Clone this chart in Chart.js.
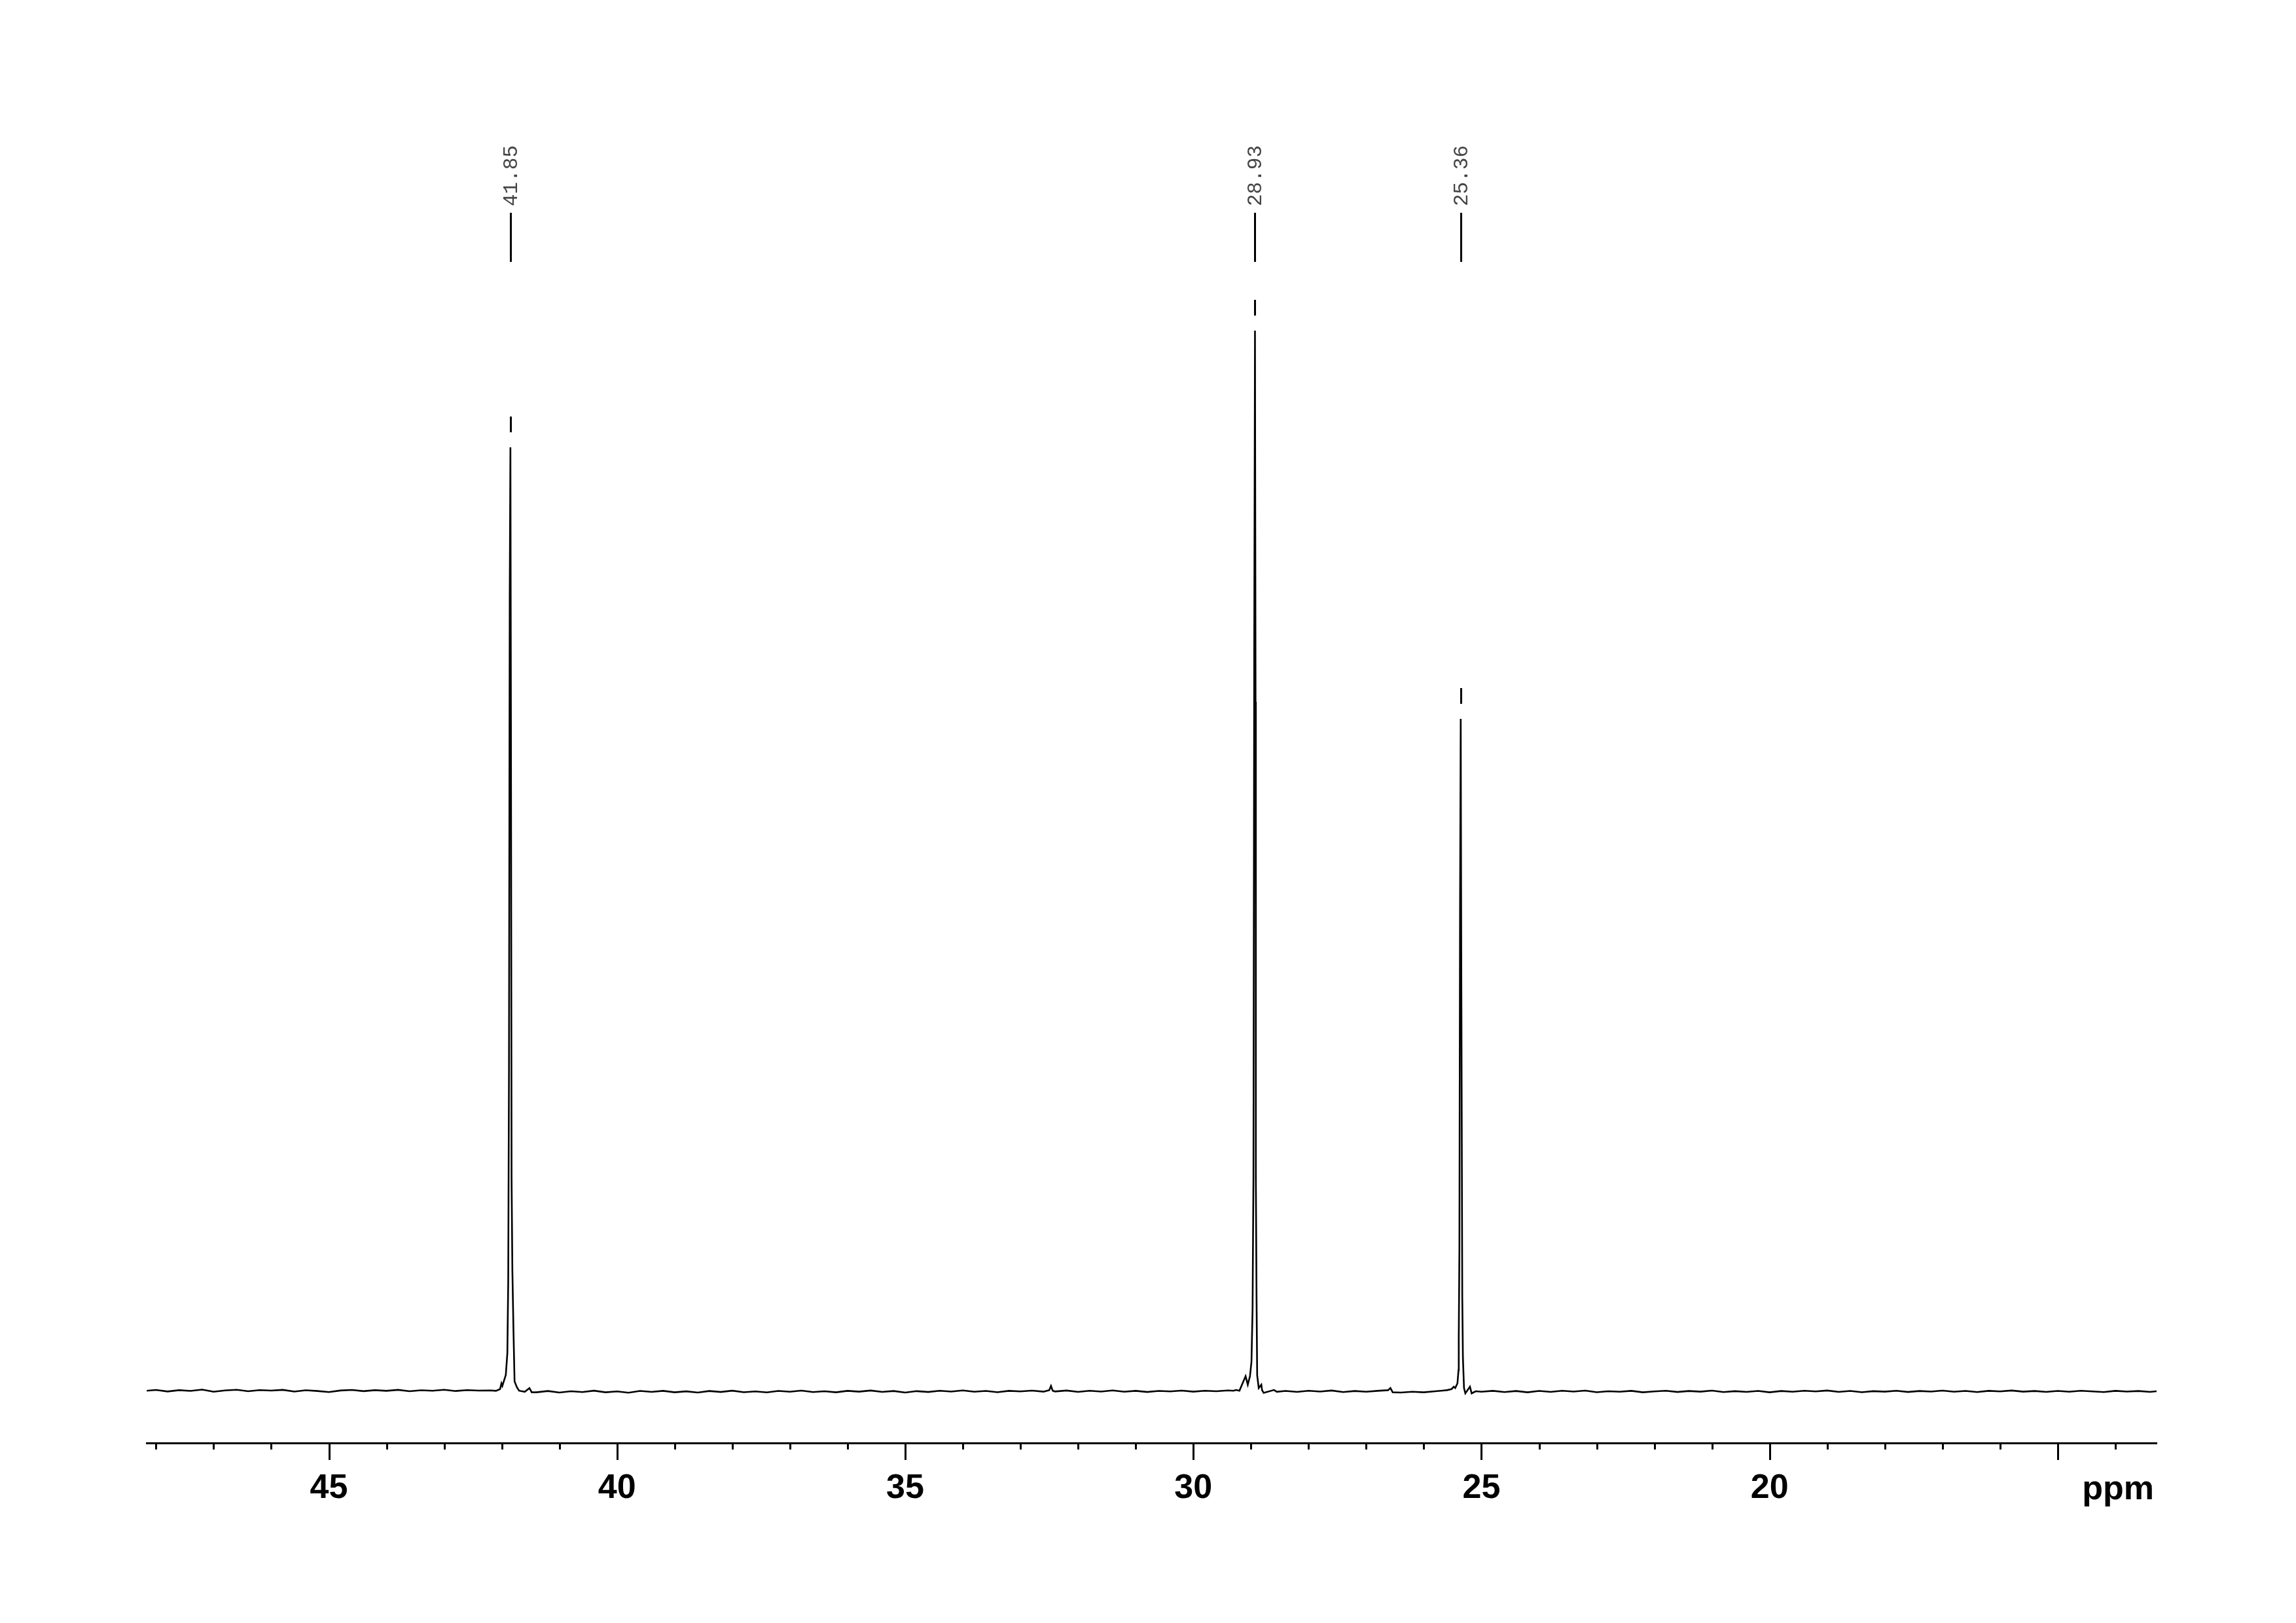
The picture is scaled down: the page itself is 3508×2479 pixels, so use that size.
<!DOCTYPE html>
<html>
<head>
<meta charset="utf-8">
<title>13C NMR</title>
<script src="https://cdn.jsdelivr.net/npm/chart.js@4.4.0/dist/chart.umd.min.js"></script>
<style>
  html, body { margin: 0; padding: 0; background: #fff; }
  #wrap { width: 3508px; height: 2479px; }
</style>
</head>
<body>
<div id="wrap"><canvas id="nmr" width="3508" height="2479"></canvas></div>
<script>
const peakShifts = [41.85, 28.93, 25.36];
const peakLabels = ['41.85', '28.93', '25.36'];
const peakHeights = [89.0, 100, 63.4];

const majorTicks = [45, 40, 35, 30, 25, 20, 15];
const tickLabels = ['45', '40', '35', '30', '25', '20', ''];
const axisUnit = 'ppm';

const spectrumPpm = [
    48.16, 48.0, 47.8, 47.6, 47.4, 47.2, 47.0, 46.8, 46.6, 46.4, 46.2, 46.0, 45.8, 45.6, 45.4, 45.2,
    45.0, 44.8, 44.6, 44.4, 44.2, 44.0, 43.8, 43.6, 43.4, 43.2, 43.0, 42.8, 42.6, 42.4, 42.2,
    // pico 41.85
    42.10, 42.03, 42.006, 41.99, 41.93, 41.903, 41.888, 41.875, 41.862, 41.85, 41.84, 41.83, 41.816,
    41.797, 41.778, 41.74, 41.70, 41.6, 41.52, 41.48,
    41.4, 41.2, 41.0, 40.8, 40.6, 40.4, 40.2, 40.0, 39.8, 39.6, 39.4, 39.2, 39.0, 38.8, 38.6, 38.4,
    38.2, 38.0, 37.8, 37.6, 37.4, 37.2, 37.0, 36.8, 36.6, 36.4, 36.2, 36.0, 35.8, 35.6, 35.4, 35.2,
    35.0, 34.8, 34.6, 34.4, 34.2, 34.0, 33.8, 33.6, 33.4, 33.2, 33.0, 32.8, 32.6, 32.5, 32.47, 32.44,
    32.4, 32.2, 32.0, 31.8, 31.6, 31.4, 31.2, 31.0, 30.8, 30.6, 30.4, 30.2, 30.0, 29.8, 29.6, 29.4, 29.3,
    // pico 28.93
    29.26, 29.2, 29.093, 29.055, 29.017, 28.991, 28.972, 28.957, 28.943, 28.93, 28.92, 28.915, 28.903,
    28.892, 28.865, 28.82, 28.807, 28.78, 28.6, 28.55,
    28.4, 28.2, 28.0, 27.8, 27.6, 27.4, 27.2, 27.0, 26.8, 26.62, 26.58, 26.54, 26.4, 26.2, 26.0, 25.8, 25.7,
    // pico 25.36
    25.6, 25.52, 25.48, 25.455, 25.417, 25.398, 25.394, 25.383, 25.372, 25.36, 25.35, 25.333, 25.322,
    25.303, 25.28, 25.2, 25.17, 25.1,
    25.0, 24.8, 24.6, 24.4, 24.2, 24.0, 23.8, 23.6, 23.4, 23.2, 23.0, 22.8, 22.6, 22.4, 22.2, 22.0,
    21.8, 21.6, 21.4, 21.2, 21.0, 20.8, 20.6, 20.4, 20.2, 20.0, 19.8, 19.6, 19.4, 19.2, 19.0, 18.8,
    18.6, 18.4, 18.2, 18.0, 17.8, 17.6, 17.4, 17.2, 17.0, 16.8, 16.6, 16.4, 16.2, 16.0, 15.8, 15.6,
    15.4, 15.2, 15.0, 14.8, 14.6, 14.4, 14.2, 14.0, 13.8, 13.6, 13.4, 13.285
];

const spectrumIntensity = [
    0.05, 0.12, -0.02, 0.10, 0.03, 0.15, -0.05, 0.08, 0.14, 0.0, 0.11, 0.06, 0.13, -0.03, 0.09, 0.02,
    -0.08, 0.07, 0.12, 0.01, 0.10, 0.04, 0.13, 0.0, 0.09, 0.05, 0.14, 0.02, 0.11, 0.06, 0.08,
    // pico 41.85
    0.04, 0.2, 0.74, 0.5, 1.54, 3.6, 10.4, 30, 75, 89.0, 60, 20, 11.4,
    5.7, 0.93, 0.4, 0.05, -0.05, 0.3, -0.1,
    -0.1, 0.02, -0.12, 0.0, -0.08, 0.05, -0.1, -0.02, -0.14, 0.03, -0.06, 0.04, -0.1, -0.01, -0.12, 0.02,
    -0.07, 0.05, -0.09, -0.02, -0.11, 0.03, -0.05, 0.06, -0.08, 0.0, -0.1, 0.04, -0.04, 0.07, -0.06, 0.02,
    -0.12, 0.01, -0.07, 0.05, -0.03, 0.08, -0.05, 0.03, -0.09, 0.04, -0.02, 0.06, -0.04, 0.1, 0.5, 0.05,
    -0.02, 0.07, -0.06, 0.05, -0.03, 0.08, -0.05, 0.04, -0.07, 0.03, -0.02, 0.06, -0.04, 0.05, 0.0, 0.08, 0.05,
    // pico 28.93
    0.12, 0.05, 1.42, 0.62, 1.42, 2.78, 7.7, 20, 70, 100, 65, 20, 8.8,
    1.5, 0.3, 0.62, 0.1, -0.15, 0.12, -0.05,
    0.03, -0.06, 0.05, -0.03, 0.07, -0.08, 0.02, -0.05, 0.04, 0.1, 0.3, -0.1, -0.12, -0.05, -0.1, 0.0, 0.05,
    // pico 25.36
    0.1, 0.2, 0.43, 0.3, 0.74, 2.0, 5.1, 13.3, 45, 63.4, 40, 8.8, 3.2,
    0.3, -0.2, 0.43, -0.2, 0.0,
    -0.05, 0.04, -0.08, 0.02, -0.1, 0.03, -0.06, 0.05, -0.03, 0.06, -0.09, 0.0, -0.05, 0.04, -0.1, -0.02,
    0.05, -0.07, 0.02, -0.04, 0.06, -0.08, 0.01, -0.06, 0.03, -0.1, 0.02, -0.05, 0.05, -0.02, 0.07, -0.06,
    0.03, -0.09, 0.01, -0.04, 0.05, -0.07, 0.02, -0.03, 0.06, -0.05, 0.03, -0.08, 0.04, -0.02, 0.07, -0.04,
    0.02, -0.06, 0.03, -0.05, 0.05, -0.02, -0.08, 0.04, -0.03, 0.02, -0.06, 0.0
];

const labelFont = '"Liberation Sans Narrow", "Arial Narrow", "Liberation Sans", Arial, sans-serif';

// --- plugin: marcas del eje y etiquetas de picos ---
const nmrDecor = {
    id: 'nmrDecor',
    afterDraw(chart) {
        const ctx = chart.ctx;
        const xs = chart.scales.x;
        const ys = chart.scales.y;
        const axisY = chart.chartArea.bottom;

        ctx.save();
        ctx.strokeStyle = '#000';
        ctx.lineWidth = 3;
        xs.ticks.forEach(t => {
            const px = Math.round(xs.getPixelForValue(t.value)) + 0.5;
            const len = majorTicks.includes(t.value) ? 26 : 10;
            ctx.beginPath();
            ctx.moveTo(px, axisY);
            ctx.lineTo(px, axisY + len);
            ctx.stroke();
        });

        // unidad a la derecha
        ctx.fillStyle = '#000';
        ctx.font = 'bold 52px ' + labelFont;
        ctx.textAlign = 'right';
        ctx.textBaseline = 'alphabetic';
        ctx.fillText(axisUnit, chart.chartArea.right - 4, 2290);

        // etiquetas de picos
        peakShifts.forEach((shift, i) => {
            const px = Math.round(xs.getPixelForValue(shift)) + 0.5;
            const top = ys.getPixelForValue(peakHeights[i]);
            ctx.strokeStyle = '#000';
            ctx.lineWidth = 3;
            ctx.beginPath();
            ctx.moveTo(px, 325);
            ctx.lineTo(px, 400);
            ctx.moveTo(px, top - 47);
            ctx.lineTo(px, top - 23);
            ctx.stroke();

            ctx.save();
            ctx.translate(px + 1, 315);
            ctx.rotate(-Math.PI / 2);
            ctx.fillStyle = '#444';
            ctx.font = '31px "Liberation Mono", "DejaVu Sans Mono", monospace';
            ctx.textAlign = 'left';
            ctx.textBaseline = 'middle';
            ctx.fillText(peakLabels[i], 0, 0);
            ctx.restore();
        });
        ctx.restore();
    }
};

new Chart(document.getElementById('nmr'), {
    type: 'line',
    data: {
        datasets: [{
            data: spectrumPpm.map((p, i) => ({ x: p, y: spectrumIntensity[i] })),
            borderColor: '#000',
            borderWidth: 2.6,
            pointRadius: 0,
            tension: 0,
            fill: false
        }]
    },
    options: {
        responsive: false,
        animation: false,
        devicePixelRatio: 1,
        layout: { padding: { top: 100, left: 224, right: 213, bottom: 0 } },
        plugins: { legend: { display: false }, tooltip: { enabled: false } },
        scales: {
            x: {
                type: 'linear',
                reverse: true,
                min: 13.285,
                max: 48.163,
                afterFit(scale) { scale.height = 275; },
                grid: { display: false, drawTicks: false },
                border: { display: true, width: 3, color: '#000' },
                ticks: {
                    stepSize: 1,
                    autoSkip: false,
                    maxRotation: 0,
                    includeBounds: false,
                    padding: 38,
                    color: '#000',
                    font: { family: labelFont, size: 52, weight: 'bold' },
                    callback: v => {
                        const k = majorTicks.indexOf(v);
                        return k >= 0 ? tickLabels[k] : '';
                    }
                }
            },
            y: {
                display: false,
                min: -4.877,
                max: 125
            }
        }
    },
    plugins: [nmrDecor]
});
</script>
</body>
</html>
